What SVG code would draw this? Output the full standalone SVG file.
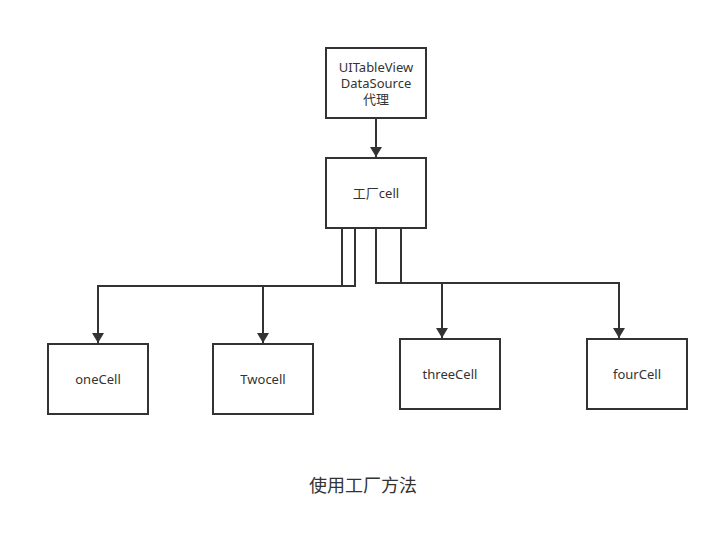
<svg xmlns="http://www.w3.org/2000/svg" width="719" height="537" viewBox="0 0 719 537">
<style>
.box{fill:#fff;stroke:#333;stroke-width:2}
.t{font-family:"Noto Sans","Noto Sans CJK SC",sans-serif;font-size:13px;fill:#333;text-anchor:middle}
.cap{font-family:"Noto Sans CJK SC",sans-serif;font-size:18px;fill:#333;text-anchor:middle}
.c{fill:none;stroke:#333;stroke-width:2}
</style>
<defs>
<marker id="ah" viewBox="0 0 10 12" refX="10" refY="6" markerWidth="10" markerHeight="12" markerUnits="userSpaceOnUse" orient="auto">
<path d="M0,0 L10,6 L0,12 Z" fill="#333"/>
</marker>
</defs>
<rect width="719" height="537" fill="#fff"/>
<g id="connectors">
<path class="c" d="M376,118 V157" marker-end="url(#ah)"/>
<path class="c" d="M342,228 V286 H98 V343" marker-end="url(#ah)"/>
<path class="c" d="M355,228 V286 H263 V343" marker-end="url(#ah)"/>
<path class="c" d="M376,228 V283 H442 V338" marker-end="url(#ah)"/>
<path class="c" d="M401,228 V283 H619 V338" marker-end="url(#ah)"/>
</g>
<g id="datasource">
<rect class="box" x="326" y="48" width="100" height="70"/>
<text class="t" x="376" y="72">UITableView</text>
<text class="t" x="376" y="88">DataSource</text>
<text class="t" x="376" y="104">代理</text>
</g>
<g id="factory">
<rect class="box" x="326" y="158" width="100" height="70"/>
<text class="t" x="376" y="198">工厂cell</text>
</g>
<g id="oneCell">
<rect class="box" x="48" y="344" width="100" height="70"/>
<text class="t" x="98" y="384">oneCell</text>
</g>
<g id="twoCell">
<rect class="box" x="213" y="344" width="100" height="70"/>
<text class="t" x="263" y="384">Twocell</text>
</g>
<g id="threeCell">
<rect class="box" x="400" y="339" width="100" height="70"/>
<text class="t" x="450" y="379">threeCell</text>
</g>
<g id="fourCell">
<rect class="box" x="587" y="339" width="100" height="70"/>
<text class="t" x="637" y="379">fourCell</text>
</g>
<text class="cap" x="363" y="492">使用工厂方法</text>
</svg>
